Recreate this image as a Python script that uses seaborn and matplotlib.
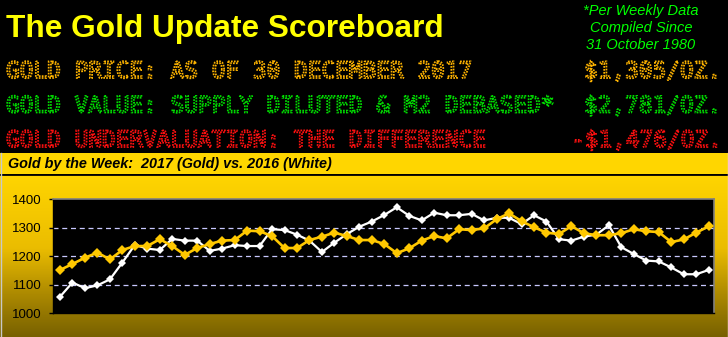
import numpy as np
import pandas as pd
import matplotlib
matplotlib.use("Agg")
import matplotlib.pyplot as plt
import seaborn as sns
from matplotlib import patheffects as pe
from matplotlib.colors import LinearSegmentedColormap
from matplotlib.patches import Rectangle

# ---------------- data ----------------
weeks = list(range(1, 54))
gold_2017 = [1152, 1173, 1195, 1213, 1189, 1222, 1236, 1236, 1260, 1236, 1205, 1229, 1243,
             1255, 1257, 1290, 1288, 1271, 1229, 1229, 1257, 1269, 1283, 1271, 1257, 1257,
             1243, 1211, 1228, 1255, 1271, 1263, 1295, 1292, 1298, 1330, 1351, 1323, 1302,
             1283, 1278, 1306, 1281, 1274, 1274, 1281, 1295, 1288, 1285, 1250, 1259, 1283, 1305]
gold_2016 = [1058, 1108, 1088, 1098, 1119, 1178, 1240, 1227, 1222, 1261, 1255, 1255, 1219,
             1227, 1239, 1236, 1236, 1295, 1292, 1276, 1255, 1215, 1248, 1278, 1304, 1322,
             1345, 1372, 1342, 1326, 1353, 1344, 1344, 1349, 1326, 1335, 1335, 1313, 1344,
             1322, 1260, 1255, 1269, 1276, 1309, 1232, 1208, 1185, 1182, 1161, 1137, 1137, 1152]
y_ticks = [1000, 1100, 1200, 1300, 1400]

main_title = "The Gold Update Scoreboard"
note_lines = ["*Per Weekly Data", "Compiled Since", "31 October 1980"]
led_left = ["GOLD PRICE: AS OF 30 DECEMBER 2017",
            "GOLD VALUE: SUPPLY DILUTED & M2 DEBASED*",
            "GOLD UNDERVALUATION: THE DIFFERENCE"]
led_right = ["$1,305/OZ.", "$2,781/OZ.", "-$1,476/OZ."]
band_title = "Gold by the Week:  2017 (Gold) vs. 2016 (White)"

df = pd.DataFrame({"week": weeks * 2,
                   "price": gold_2016 + gold_2017,
                   "year": ["2016"] * len(weeks) + ["2017"] * len(weeks)})

# ---------------- figure ----------------
W, H = 728, 337
fig = plt.figure(figsize=(W / 100, H / 100), dpi=100, facecolor="black")

bg = fig.add_axes([0, 0, 1, 1], zorder=-10)
bg.axis("off")
bg.set_facecolor("black")

# gradient lower area
cmap = LinearSegmentedColormap.from_list(
    "goldgrad", [(0.0, (1.0, 0.835, 0.0)), (0.45, (0.92, 0.74, 0.0)),
                 (0.72, (0.69, 0.55, 0.0)), (1.0, (0.47, 0.38, 0.0))])
grad = np.linspace(0, 1, 200).reshape(-1, 1)
bg.imshow(grad, cmap=cmap, aspect="auto", extent=[0, W, H, 175], zorder=0)
bg.add_patch(Rectangle((0, 153), W, 21, facecolor="#FFD600", edgecolor="none", zorder=1))
bg.plot([0, W], [174.5, 174.5], color="black", lw=1.3, zorder=2)
bg.plot([0.5, 0.5], [153, H], color="#c8c8c8", lw=1, zorder=3)
bg.plot([W - 0.5, W - 0.5], [153, H], color="#e0e0e0", lw=1, zorder=3)
bg.set_xlim(0, W)
bg.set_ylim(H, 0)

# main title
bg.text(6, 37, main_title, color="#FFFF00", fontsize=22.8, fontweight="bold",
        family="Liberation Sans", va="baseline", ha="left")

# note
for i, t in enumerate(note_lines):
    bg.text(641, 15 + 17 * i, t, color="#00FF00", fontsize=10.5, style="italic",
            family="Liberation Sans", va="baseline", ha="center")

# LED rows
led_colors = ["#FFB400", "#00DD00", "#FF1010"]
led_base = [78, 112.5, 147]
right_x = [584, 584, 571]
for t, rt, c, yb, rx in zip(led_left, led_right, led_colors, led_base, right_x):
    eff = [pe.PathPatchEffect(facecolor="none", edgecolor=c, linewidth=1.25,
                              linestyle=(0, (1.0, 0.7)))]
    bg.text(6, yb, t, color=c, fontsize=16.4, family="DejaVu Sans Mono",
            va="baseline", ha="left", path_effects=eff)
    bg.text(rx, yb, rt, color=c, fontsize=16.4, family="DejaVu Sans Mono",
            va="baseline", ha="left", path_effects=eff)

# band title
bg.text(8, 168, band_title, color="black", fontsize=10.4, fontweight="bold",
        style="italic", family="Liberation Sans", va="baseline", ha="left")

# ---------------- chart ----------------
ax = fig.add_axes([53 / W, (H - 313.3) / H, (714 - 53) / W, (313.3 - 199.3) / H], zorder=5)
ax.set_facecolor("black")

sns.lineplot(data=df[df.year == "2016"], x="week", y="price", ax=ax, color="white",
             marker="D", markersize=4.5, markeredgewidth=0, linewidth=1.6, zorder=3,
             legend=False)
sns.lineplot(data=df[df.year == "2017"], x="week", y="price", ax=ax, color="#FFC800",
             marker="D", markersize=5, markeredgewidth=0, linewidth=1.9, zorder=4,
             legend=False)

ax.set_xlim(weeks[0] - 0.56, weeks[-1] + 0.43)
ax.set_ylim(y_ticks[0], y_ticks[-1])
ax.set_yticks(y_ticks)
ax.set_yticklabels([str(v) for v in y_ticks], fontsize=9.5, family="Liberation Sans",
                   color="black")
ax.set_xticks([])
ax.set_xlabel("")
ax.set_ylabel("")
ax.tick_params(axis="y", length=3, width=1, color="black", pad=5)

ax.grid(axis="y", color="#C8C8FF", linestyle=(0, (4, 3)), linewidth=0.9)
ax.grid(axis="x", visible=False)
ax.set_axisbelow(True)
ticks = ax.yaxis.get_major_ticks()
ticks[0].gridline.set_visible(False)
ticks[-1].gridline.set_visible(False)

for side in ["top", "right"]:
    ax.spines[side].set_color("#808080")
    ax.spines[side].set_linewidth(1.2)
for side in ["left", "bottom"]:
    ax.spines[side].set_color("black")
    ax.spines[side].set_linewidth(1)

fig.savefig("out.png", dpi=100, facecolor="black")
